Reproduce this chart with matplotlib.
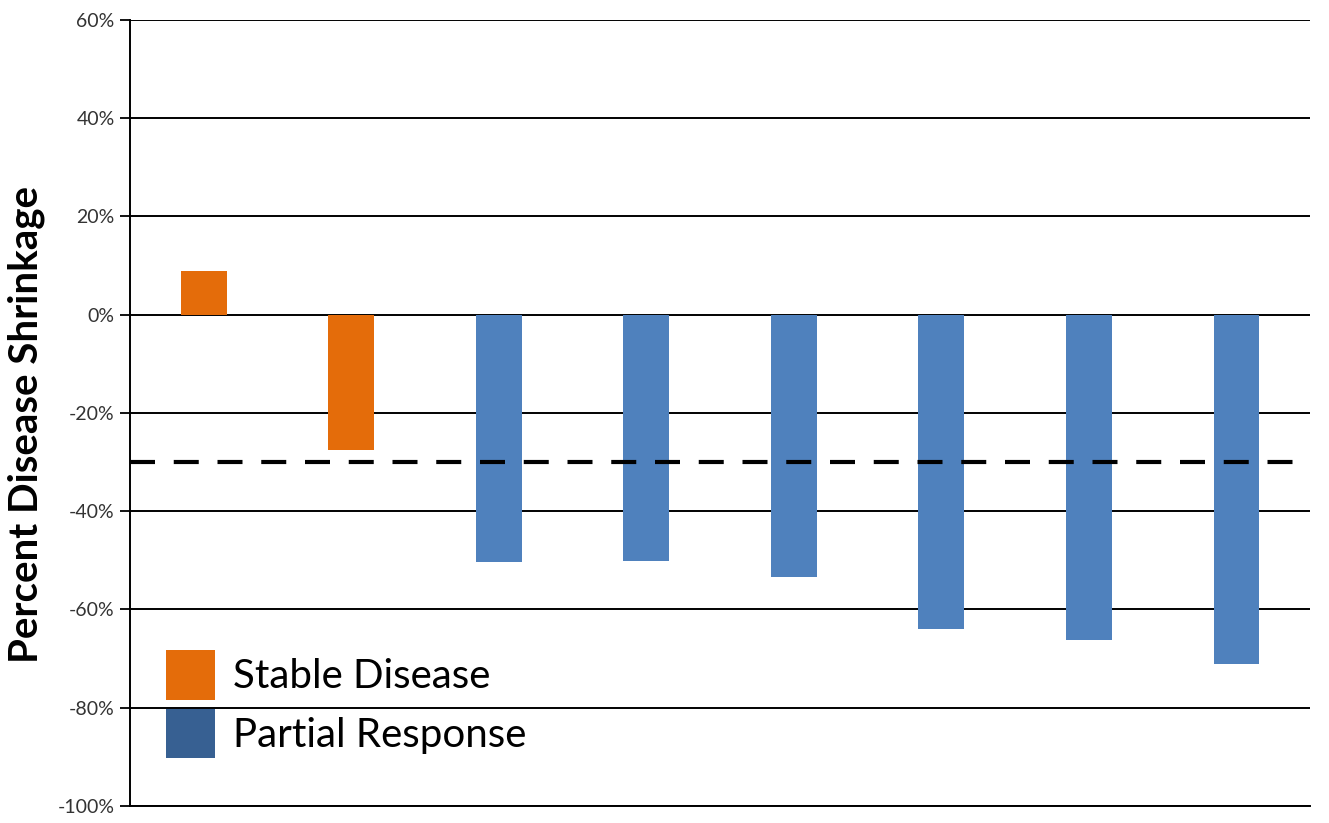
import numpy as np
import matplotlib.pyplot as plt
from matplotlib.patches import Patch
from matplotlib.ticker import FuncFormatter

plt.rcParams['font.family'] = ['Lato', 'DejaVu Sans']

# change in disease burden per patient (%)
patients = [1, 2, 3, 4, 5, 6, 7, 8]
shrinkage = [9, -27.5, -50.3, -50.2, -53.3, -64, -66.3, -71.2]
response = ["Stable Disease", "Stable Disease", "Partial Response", "Partial Response",
            "Partial Response", "Partial Response", "Partial Response", "Partial Response"]
threshold = -30

bar_colors = {"Stable Disease": "#E46C0A", "Partial Response": "#4F81BD"}
legend_colors = {"Stable Disease": "#E46C0A", "Partial Response": "#376092"}

fig = plt.figure(figsize=(13.29, 8.23), dpi=100)
ax = fig.add_axes([0.0978, 0.0207, 0.888, 0.955])

x = np.arange(len(patients))
ax.bar(x, shrinkage, width=0.31, color=[bar_colors[r] for r in response], zorder=3)

ax.set_ylim(-100, 60)
ax.set_xlim(-0.5, len(patients) - 0.5)
ax.set_yticks(np.arange(-100, 61, 20))
ax.yaxis.set_major_formatter(FuncFormatter(lambda v, p: f"{v:.0f}%"))
ax.tick_params(axis='y', labelsize=14, labelcolor='#333333', length=7, width=1.3,
               direction='out', pad=4)
ax.set_xticks([])
ax.yaxis.grid(True, color='black', linewidth=1.4, zorder=1)
ax.set_axisbelow(True)

ax.axhline(threshold, color='black', linewidth=3, dashes=(6, 4.5), zorder=4)

for s in ['top', 'right']:
    ax.spines[s].set_visible(False)
ax.spines['left'].set_linewidth(1.4)
ax.spines['bottom'].set_linewidth(1.4)

ax.set_ylabel("Percent Disease Shrinkage", fontsize=29, fontweight='bold')
ax.yaxis.set_label_coords(-0.072, 0.485)

handles = [Patch(facecolor=legend_colors[k], label=k) for k in ["Stable Disease", "Partial Response"]]
ax.legend(handles=handles, loc='lower left', bbox_to_anchor=(0.017, 0.04), frameon=False,
          fontsize=29, handlelength=1.22, handleheight=1.52, labelspacing=0.22,
          handletextpad=0.45, borderaxespad=0)

fig.savefig("out.png", dpi=100)
